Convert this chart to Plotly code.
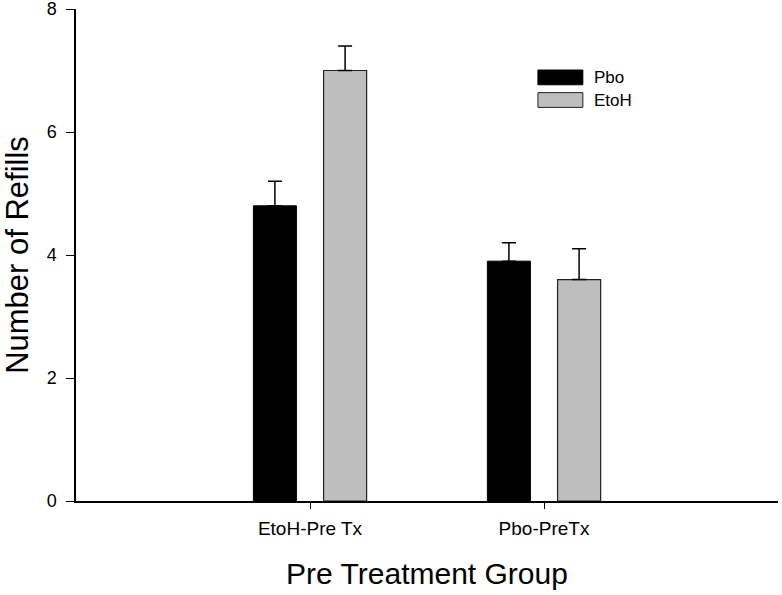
import plotly.graph_objects as go

groups = ["EtoH-Pre Tx", "Pbo-PreTx"]
pbo_vals = [4.8, 3.9]
pbo_err = [0.4, 0.3]
etoh_vals = [7.0, 3.6]
etoh_err = [0.4, 0.5]
y_ticks = [0, 2, 4, 6, 8]

FONT = "Arial, 'Liberation Sans', sans-serif"

fig = go.Figure()
fig.add_trace(go.Bar(
    x=groups, y=pbo_vals, name="Pbo",
    marker=dict(color="black", line=dict(color="black", width=1)),
    error_y=dict(type="data", symmetric=False, array=pbo_err, arrayminus=[0, 0],
                 color="black", thickness=1.5, width=7),
    showlegend=False,
))
fig.add_trace(go.Bar(
    x=groups, y=etoh_vals, name="EtoH",
    marker=dict(color="#bebebe", line=dict(color="#222222", width=1.2)),
    error_y=dict(type="data", symmetric=False, array=etoh_err, arrayminus=[0, 0],
                 color="black", thickness=1.5, width=7),
    showlegend=False,
))

# custom legend (rectangular swatches)
legend_items = [("Pbo", "black", "black", 0.876, 0.846), ("EtoH", "#bebebe", "#222222", 0.830, 0.800)]
for name, fill, edge, y1, y0 in legend_items:
    fig.add_shape(type="rect", xref="paper", yref="paper", x0=0.658, x1=0.722, y0=y0, y1=y1,
                  fillcolor=fill, line=dict(color=edge, width=1))
    fig.add_annotation(xref="paper", yref="paper", x=0.735, y=(y0 + y1) / 2, text=name,
                       showarrow=False, xanchor="left", yanchor="middle",
                       font=dict(family=FONT, size=17, color="black"))

fig.update_layout(
    width=782, height=595,
    margin=dict(l=76, r=4, t=9, b=94),
    plot_bgcolor="white", paper_bgcolor="white",
    barmode="group", bargap=0.4, bargroupgap=0.387,
    font=dict(family=FONT, color="black"),
    xaxis=dict(
        type="category", range=[-1, 2], automargin=False,
        showline=True, linecolor="black", linewidth=1.5,
        ticks="outside", ticklen=6, tickcolor="black", ticklabelstandoff=3,
        tickfont=dict(size=19), showgrid=False, zeroline=False,
        title=dict(text="Pre Treatment Group", font=dict(size=30), standoff=25),
    ),
    yaxis=dict(
        range=[0, 8], tickvals=y_ticks, automargin=False, ticklabeloverflow="allow",
        showline=True, linecolor="black", linewidth=1.5,
        ticks="outside", ticklen=8, tickcolor="black", ticklabelstandoff=6,
        tickfont=dict(size=18), showgrid=False, zeroline=False,
        title=dict(text="Number of Refills", font=dict(size=31), standoff=12),
    ),
)

fig.write_html(
    "out.html",
    config={"displayModeBar": False},
    post_script="document.body.style.margin='0';document.body.style.overflow='hidden';",
)
